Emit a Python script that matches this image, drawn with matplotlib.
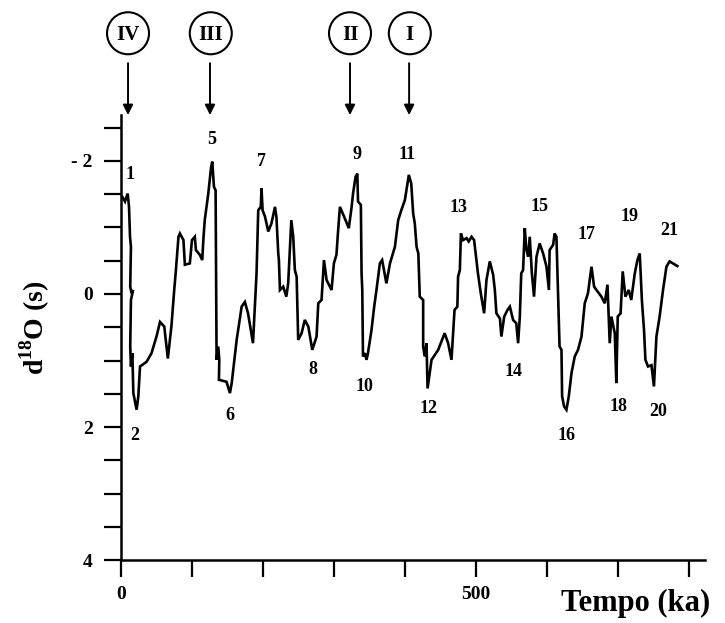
import numpy as np
import matplotlib
matplotlib.use("Agg")
import matplotlib.pyplot as plt
from matplotlib.patches import Ellipse

plt.rcParams["mathtext.fontset"] = "custom"
plt.rcParams["mathtext.rm"] = "Liberation Serif"
plt.rcParams["mathtext.bf"] = "Liberation Serif:bold"

# ---------------- DATA ----------------
# time (ka) and d18O (per mil)
tempo = [1.9, 5.6, 9.4, 11.3, 12.7, 14.0, 13.0, 15.0, 17.0, 14.0, 13.0, 14.0, 16.0,
         17.4, 22.0, 24.4, 26.8, 36.0, 43.0, 50.0, 55.0, 61.0, 66.0, 71.0, 75.0, 77.0,
         81.0, 83.0, 88.0, 90.0, 97.0, 100.0, 104.0, 105.6, 111.0, 114.5, 116.0, 118.0,
         123.0, 127.0, 128.6, 131.0, 133.3, 134.7, 137.0, 138.5, 138.0, 148.7, 153.5,
         156.0, 163.0, 170.0, 174.6, 179.0, 186.0, 191.0, 193.4, 197.0, 198.0, 199.5,
         203.0, 207.5, 212.0, 217.0, 219.0, 221.6, 222.5, 224.0, 228.6, 233.0, 235.6,
         240.0, 242.7, 245.0, 247.5, 249.7, 254.5, 259.0, 264.0, 269.5, 275.6, 278.0,
         282.6, 286.0, 289.7, 296.7, 300.0, 303.6, 306.0, 308.5, 314.5, 321.0, 325.0,
         327.0, 330.5, 333.0, 334.0, 338.0, 339.0, 340.0, 341.0, 343.7, 346.0, 348.0, 353.0,
         356.8, 360.0, 364.8, 368.0, 374.0, 379.0, 386.0, 390.6, 395.0, 400.0, 405.6,
         409.0, 411.7, 414.0, 416.5, 419.0, 421.0, 425.8, 425.8, 428.0, 430.5, 432.0,
         437.6, 447.0, 456.0, 461.0, 465.7, 470.0, 474.0, 475.0, 477.5, 479.0, 482.0,
         487.0, 490.0, 494.0, 497.6, 503.0, 507.0, 511.7, 515.0, 519.7, 524.4, 526.8,
         529.0, 534.0, 536.0, 540.0, 544.6, 548.0, 552.5, 557.0, 559.6, 562.0, 564.0,
         566.6, 569.0, 571.0, 573.7, 576.0, 579.0, 582.0, 585.5, 590.0, 594.8, 599.6,
         603.0, 604.0, 609.0, 611.0, 613.6, 616.0, 618.0, 620.7, 621.6, 624.4, 627.7,
         631.0, 634.8, 639.4, 644.0, 648.9, 653.5, 658.0, 663.0, 666.7, 670.0, 677.0,
         681.7, 685.5, 688.7, 691.0, 695.8, 698.0, 700.0, 704.0, 707.0, 710.8, 715.5,
         719.0, 724.0, 727.7, 731.0, 734.0, 737.0, 739.0, 742.7, 747.5, 751.0, 754.5,
         759.0, 763.8, 768.6, 773.0, 777.8, 784.0]
d18o = [-1.46, -1.39, -1.51, -1.31, -0.86, -0.71, -0.11, -0.01, -0.06, 0.09, 0.79, 1.09, 0.89,
        1.49, 1.74, 1.54, 1.09, 1.02, 0.89, 0.64, 0.42, 0.49, 0.97, 0.49, -0.06, -0.31,
        -0.86, -0.91, -0.81, -0.44, -0.46, -0.81, -0.86, -0.66, -0.59, -0.51, -0.81, -1.11,
        -1.51, -1.91, -1.99, -1.61, -1.56, 0.99, 0.79, 0.99, 1.29, 1.32, 1.49,
        1.34, 0.69, 0.19, 0.12, 0.29, 0.74, -0.31, -1.26, -1.31, -1.59, -1.26,
        -1.16, -0.94, -1.06, -1.31, -1.16, -0.61, -0.51, -0.06, -0.11, 0.04, -0.16,
        -1.11, -0.86, -0.36, -0.26, 0.69, 0.59, 0.39, 0.49, 0.84, 0.64, 0.14,
        0.09, -0.51, -0.21, -0.06, -0.46, -0.59, -0.96, -1.31, -1.16, -0.99, -1.31,
        -1.51, -1.76, -1.81, -1.39, -1.34, -0.31, -0.06, 0.94, 0.89, 0.99, 0.89,
        0.54, 0.19, -0.06, -0.46, -0.51, -0.16, -0.46, -0.71, -1.11, -1.26, -1.41, -1.79,
        -1.66, -1.21, -1.06, -0.71, -0.61, 0.04, 0.09, 0.79, 0.94, 0.74, 1.42,
        0.99, 0.84, 0.59, 0.74, 0.99, 0.24, 0.19, -0.26, -0.36, -0.91, -0.81,
        -0.84, -0.79, -0.86, -0.81, -0.31, -0.01, 0.29, -0.21, -0.49, -0.29, -0.06,
        0.29, 0.37, 0.64, 0.34, 0.24, 0.19, 0.39, 0.44, 0.74, 0.34, -0.31,
        -0.36, -0.99, -0.69, -0.56, -0.86, -0.31, 0.04, -0.56, -0.76, -0.61, -0.41,
        -0.06, -0.66, -0.74, -0.91, -0.86, 0.04, 0.79, 0.84, 1.54, 1.69, 1.74,
        1.54, 1.19, 0.94, 0.84, 0.64, 0.14, -0.01, -0.41, -0.11, -0.06, 0.04,
        0.14, -0.14, 0.74, 0.34, 0.59, 1.34, 0.34, 0.29, -0.34, 0.04, -0.06,
        0.09, -0.31, -0.51, -0.61, 0.09, 0.54, 0.99, 1.09, 1.07, 1.39, 0.64,
        0.34, -0.06, -0.41, -0.49, -0.46, -0.42]

# stage numbers and where they are written
stage_labels = ["1", "2", "5", "6", "7", "8", "9", "10", "11", "12", "13",
                "14", "15", "16", "17", "18", "19", "20", "21"]
stage_x = [12.7, 19.7, 127.7, 153.5, 198, 270.8, 332, 342.7, 402.4, 434, 476,
           552.5, 590, 627.7, 655.9, 701, 717, 756.8, 773]
stage_y = [-1.79, 2.12, -2.32, 1.82, -1.99, 1.14, -2.09, 1.39, -2.09, 1.72, -1.30,
           1.17, -1.31, 2.12, -0.89, 1.69, -1.16, 1.77, -0.96]

# arrows with roman numerals
event_labels = ["IV", "III", "II", "I"]
event_x = [9.9, 125.4, 322.7, 406.0]
circle_x = [9.9, 126.5, 322.7, 407.0]

serif = ["Liberation Serif", "DejaVu Serif"]

# ---------------- PLOT ----------------
fig = plt.figure(figsize=(7.25, 6.23), dpi=100)
ax = fig.add_axes([121 / 725, 43 / 623, 589 / 725, 580 / 623])

ax.plot(tempo, d18o, color="black", lw=1.9, solid_joinstyle="miter")

ax.set_xlim(0, 830)
ax.set_ylim(4.3, -4.42)

for s in ["top", "right"]:
    ax.spines[s].set_visible(False)
ax.spines["bottom"].set_position(("data", 4))
ax.spines["bottom"].set_bounds(0, 823)
ax.spines["left"].set_bounds(-2.69, 4)
ax.spines["left"].set_linewidth(1.8)
ax.spines["bottom"].set_linewidth(1.8)

yt = np.arange(-2.5, 4.01, 0.5)
ax.set_yticks(yt)
ax.set_yticklabels(["- 2" if v == -2 else (str(int(v)) if v in (0, 2, 4) else "")
                    for v in yt])
ax.set_xticks(np.arange(0, 801, 100))
ax.set_xticklabels(["0", "", "", "", "", "500", "", "", ""])
ax.tick_params(axis="y", direction="out", length=12.5, width=1.6, pad=8)
ax.tick_params(axis="x", direction="out", length=12.5, width=1.6, pad=6)
for lab in ax.get_xticklabels() + ax.get_yticklabels():
    lab.set_family(serif)
    lab.set_fontweight("bold")
    lab.set_fontsize(14)

for lab, x, y in zip(stage_labels, stage_x, stage_y):
    ax.text(x, y, lab, ha="center", va="center", fontsize=13,
            fontweight="bold", family=serif)

# arrows and circled roman numerals
rx = 21 / (589 / 830)
ry = 21 / (580 / 8.72)
for lab, xa, xc in zip(event_labels, event_x, circle_x):
    ax.annotate("", xy=(xa, -2.69), xytext=(xa, -3.47),
                arrowprops=dict(arrowstyle="-|>", color="black", lw=1.4,
                                mutation_scale=15, shrinkA=0, shrinkB=0))
    ax.add_patch(Ellipse((xc, -3.92), 2 * rx, 2 * ry, fill=False,
                         lw=1.5, color="black", clip_on=False))
    ax.text(xc, -3.90, lab, ha="center", va="center", fontsize=15,
            fontweight="bold", family=serif)

# axis titles
fig.text(35 / 725, 1 - 328 / 623, r"d$^{\mathbf{18}}$O (s)", rotation=90,
         ha="center", va="center", fontsize=20, fontweight="bold", family=serif)
fig.text(636 / 725, 1 - 603 / 623, "Tempo (ka)", ha="center", va="center",
         fontsize=22, fontweight="bold", family=serif)

fig.savefig("out.png", dpi=100)
